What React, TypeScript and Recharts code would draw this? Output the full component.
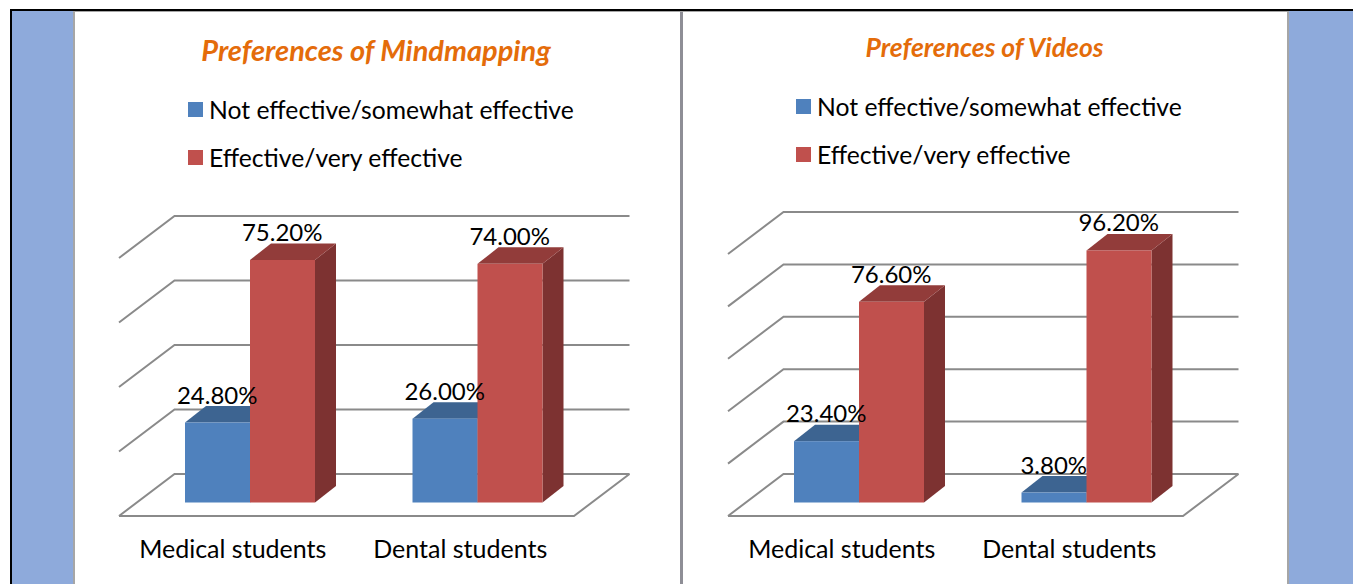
import { Bar, CartesianGrid, ComposedChart, Legend, Line, XAxis, YAxis } from 'recharts'

const categories = ['Medical students', 'Dental students']
const seriesNames = ['Not effective/somewhat effective', 'Effective/very effective']

const mindmapLow = [24.8, 26.0]
const mindmapHigh = [75.2, 74.0]
const mindmapTicks = [0, 20, 40, 60, 80]

const videosLow = [23.4, 3.8]
const videosHigh = [76.6, 96.2]
const videosTicks = [0, 20, 40, 60, 80, 100]

const FONT = 'Lato, Carlito, sans-serif'
const BLUE = '#4F81BD'
const RED = '#C0504D'
const SHADES: Record<string, { top: string; side: string }> = {
  [BLUE]: { top: '#3D6491', side: '#375A83' },
  [RED]: { top: '#923C3A', side: '#7D3231' },
}

// oblique offset of the fake 3D look
const DEPTH_X = 21
const DEPTH_Y = 16.5

function Bar3D(props: any) {
  const { x, y, width, height, fill } = props
  const s = SHADES[fill]
  return (
    <g>
      <path
        d={`M${x + width},${y} l${DEPTH_X},${-DEPTH_Y} v${height} l${-DEPTH_X},${DEPTH_Y} z`}
        fill={s.side}
      />
      <path
        d={`M${x},${y} l${DEPTH_X},${-DEPTH_Y} h${width} l${-DEPTH_X},${DEPTH_Y} z`}
        fill={s.top}
      />
      <rect x={x} y={y} width={width} height={height} fill={fill} />
    </g>
  )
}

// every grid line is a slanted side wall piece plus the back wall line
function WallLine(props: any) {
  const { x1, x2, y1, y, height } = props
  const floor = y1 >= y + height - 1
  const fx = x1 - 17
  const fy = y1 + 13.5
  const bx = x1 + 38.5
  const by = y1 - 28.5
  return (
    <g key={props.key} fill="none" stroke="#8A8A8A" strokeWidth={2}>
      <path d={`M${fx},${fy} L${bx},${by} L${x2 + 38.5},${by}`} />
      {floor && <path d={`M${fx},${fy} L${x2 - 17},${fy} L${x2 + 38.5},${by}`} />}
    </g>
  )
}

function CategoryTick(props: any) {
  const { x, y, payload } = props
  return (
    <text x={x - 17} y={y + 47} textAnchor="middle" fontFamily={FONT} fontSize={25} fill="#000">
      {payload.value}
    </text>
  )
}

const valueLabel = (dx: number) => (props: any) => {
  const { x, y, value } = props
  return (
    <text x={x + dx} y={y - 19} textAnchor="middle" fontFamily={FONT} fontSize={24} fill="#000">
      {value.toFixed(2)}%
    </text>
  )
}

function LegendBox({ payload }: any) {
  const items = payload.filter((item: any) => item.type !== 'none')
  return (
    <div>
      {items.map((item: any) => (
        <div
          key={item.value}
          style={{ display: 'flex', alignItems: 'center', height: 48, fontFamily: FONT, fontSize: 24.7, whiteSpace: 'nowrap' }}
        >
          <span style={{ width: 15, height: 15, background: item.color, marginRight: 6, flex: 'none' }} />
          {item.value}
        </div>
      ))}
    </div>
  )
}

type PanelProps = {
  left: number
  width: number
  top: number
  marginLeft: number
  low: number[]
  high: number[]
  ticks: number[]
  legendLeft: number
  legendTop: number
}

function Panel({ left, width, top, marginLeft, low, high, ticks, legendLeft, legendTop }: PanelProps) {
  const rows = categories.map((name, i) => ({ name, low: low[i], high: high[i] }))
  const max = ticks[ticks.length - 1]
  return (
    <div style={{ position: 'absolute', left, top: 0 }}>
      <ComposedChart
        width={width}
        height={584}
        data={rows}
        barGap={0}
        margin={{ top, left: marginLeft, right: width - marginLeft - 455, bottom: 1.5 }}
      >
        <CartesianGrid vertical={false} horizontal={WallLine as any} />
        <XAxis dataKey="name" axisLine={false} tickLine={false} height={80} tick={CategoryTick as any} interval={0} />
        <YAxis hide domain={[0, max]} ticks={ticks} width={0} />
        <Legend
          layout="vertical"
          align="center"
          verticalAlign="middle"
          itemSorter={null}
          content={LegendBox as any}
          wrapperStyle={{ left: legendLeft, top: legendTop, width: 'auto' }}
        />
        <Bar dataKey="low" name={seriesNames[0]} fill={BLUE} barSize={65} shape={Bar3D} isAnimationActive={false} />
        <Bar dataKey="high" name={seriesNames[1]} fill={RED} barSize={65} shape={Bar3D} isAnimationActive={false} />
        <Line dataKey="low" stroke="none" dot={false} legendType="none" label={valueLabel(-32.5)} isAnimationActive={false} />
        <Line dataKey="high" stroke="none" dot={false} legendType="none" label={valueLabel(32.5)} isAnimationActive={false} />
      </ComposedChart>
    </div>
  )
}

function Title({ text, center, top, size }: { text: string; center: number; top: number; size: number }) {
  return (
    <div
      style={{
        position: 'absolute',
        left: center - 300,
        width: 600,
        top,
        textAlign: 'center',
        fontFamily: FONT,
        fontWeight: 700,
        fontStyle: 'italic',
        fontSize: size,
        color: '#E46C0A',
      }}
    >
      {text}
    </div>
  )
}

const block = (left: number, width: number, background: string) => (
  <div style={{ position: 'absolute', left, top: 11, width, height: 573, background }} />
)

export default function App() {
  return (
    <div style={{ position: 'absolute', left: 0, top: 0, width: 1353, height: 584, overflow: 'hidden', background: '#fff' }}>
      <div style={{ position: 'absolute', left: 10, top: 9, width: 1343, height: 2, background: '#000' }} />
      <div style={{ position: 'absolute', left: 10, top: 9, width: 2, height: 575, background: '#000' }} />
      {block(12, 61, '#8EAADB')}
      {block(73, 2, '#A6A6A6')}
      {block(680, 3, '#8E8E96')}
      {block(1287, 2, '#A6A6A6')}
      {block(1289, 64, '#8EAADB')}
      <div style={{ position: 'absolute', left: 75, top: 11, width: 1212, height: 1, background: '#A6A6A6' }} />
      <Panel
        left={75}
        width={605}
        top={244.5}
        marginLeft={61}
        low={mindmapLow}
        high={mindmapHigh}
        ticks={mindmapTicks}
        legendLeft={113}
        legendTop={85.5}
      />
      <Panel
        left={683}
        width={604}
        top={240.5}
        marginLeft={62}
        low={videosLow}
        high={videosHigh}
        ticks={videosTicks}
        legendLeft={113}
        legendTop={82}
      />
      <Title text="Preferences of Mindmapping" center={376} top={32} size={29} />
      <Title text="Preferences of Videos" center={984.5} top={31} size={26.5} />
    </div>
  )
}
